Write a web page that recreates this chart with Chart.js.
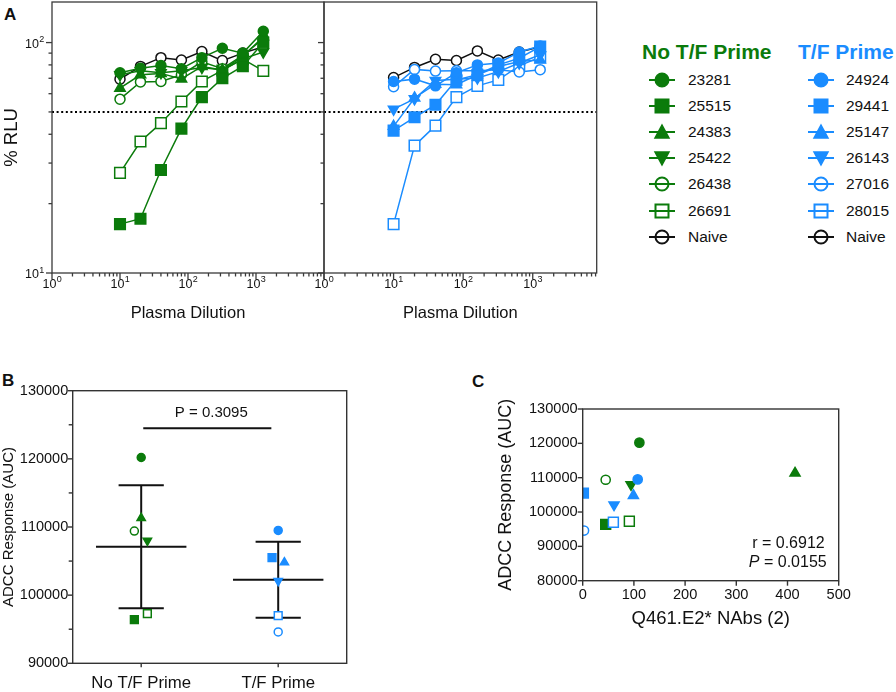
<!DOCTYPE html>
<html><head><meta charset="utf-8">
<script src="https://cdn.jsdelivr.net/npm/chart.js@4.4.1/dist/chart.umd.min.js"></script>
<style>
body{margin:0;background:#fff;width:896px;height:692px;position:relative;overflow:hidden;font-family:Arial,"Liberation Sans",sans-serif;color:#111;}
canvas{position:absolute;}
.plab{position:absolute;font-weight:bold;font-size:17px;line-height:17px;}
.lghead{position:absolute;font-weight:bold;font-size:21px;line-height:24px;white-space:nowrap;}
.lgtxt{position:absolute;font-size:15.5px;line-height:18px;white-space:nowrap;}
.lgsvg{position:absolute;}
</style></head><body>
<div class="plab" style="left:4px;top:6px">A</div>
<div class="plab" style="left:2px;top:372px">B</div>
<div class="plab" style="left:472px;top:373px">C</div>
<canvas id="aL" width="330" height="330" style="left:0;top:0"></canvas>
<canvas id="aR" width="310" height="330" style="left:300px;top:0"></canvas>
<canvas id="pB" width="360" height="322" style="left:0;top:370px"></canvas>
<canvas id="pC" width="400" height="270" style="left:470px;top:370px"></canvas>
<div id="legend"></div>
<script>
// ---------- DATA ----------
const dilutions = [10, 20, 40, 80, 160, 320, 640, 1280];
const groupTitles = ['No T/F Prime', 'T/F Prime'];
const noTFAnimals = ['23281', '25515', '24383', '25422', '26438', '26691', 'Naive'];
const tfAnimals = ['24924', '29441', '25147', '26143', '27016', '28015', 'Naive'];
// % RLU, panel A left (No T/F Prime)
const noTF_23281 = [74, 77.4, 79.5, 77, 86, 94.5, 90, 112];
const noTF_25515 = [16.3, 17.2, 28, 42.3, 58, 70, 79, 100];
const noTF_24383 = [63.4, 72.5, 73.5, 69.5, 78.8, 76, 87, 106];
const noTF_25422 = [72.5, 75.5, 74, 75.5, 78, 76, 85, 91];
const noTF_26438 = [56.8, 67.5, 67.8, 72.5, 82.5, 77, 88, 104];
const noTF_26691 = [27.2, 37.2, 44.7, 55.5, 67.8, 75.7, 84.7, 75.4];
const noTF_naive = [69.4, 78.8, 86, 84, 91.5, 83.5, 90, 96];
// % RLU, panel A right (T/F Prime)
const tf_24924 = [67.8, 69.4, 64.9, 74, 80, 81.5, 91, 96.7];
const tf_29441 = [41.5, 47.4, 53.7, 68.9, 72.5, 80, 85.5, 96];
const tf_25147 = [43.3, 57.5, 66, 65.6, 72.5, 78.7, 82.8, 84];
const tf_26143 = [51.4, 57, 68.4, 69.4, 70.2, 74.8, 81.5, 88.5];
const tf_27016 = [64.3, 76.5, 75.2, 75.4, 75.4, 76.3, 74.5, 76.3];
const tf_28015 = [16.3, 35.7, 43.6, 58, 64.9, 68.9, 79.2, 86.5];
const tf_naive = [70.5, 78, 84.7, 83.6, 92, 84, 91, 96];
const cutoffRLU = 50;
// ADCC AUC (panel B and C), order = animal order above (without Naive)
const noTF_AUC = [120200, 96400, 111300, 108000, 109400, 97300];
const tf_AUC = [109500, 105500, 104800, 102100, 94600, 97000];
// Q461.E2* NAbs (panel C)
const noTF_NAbs = [110.7, 44.9, 414.7, 94.4, 44.9, 91.1];
const tf_NAbs = [107.4, 1.3, 99, 61.2, 2.6, 59.9];
// jitter (category units) in panel B
const noTF_jitter = [0, -0.05, 0, 0.045, -0.05, 0.045];
const tf_jitter = [0, -0.045, 0.045, 0, 0, 0];
const logMajorTicks = [1, 10, 100, 1000, 10000];
const pValueB = 'P = 0.3095';
const corrR = 'r = 0.6912';
const corrP = '0.0155';
const xLabelA = 'Plasma Dilution';
const yLabelA = '% RLU';
const yLabelBC = 'ADCC Response (AUC)';
const xLabelC = 'Q461.E2* NAbs (2)';

// ---------- STYLE ----------
const GREEN = '#0b7b0b', BLUE = '#1a8cff', BLACK = '#111111', AXIS = '#3a3a3a';
const shapes = ['circle', 'square', 'tri', 'triDown', 'circle', 'square', 'circle'];
const filled = [true, true, true, true, false, false, false];
const FONT = 'Arial, "Liberation Sans", "DejaVu Sans", sans-serif';
Chart.defaults.font.family = FONT;
Chart.defaults.color = '#111';
Chart.defaults.animation = false;

function ptStyle(shape, sizes) {
  switch (shape) {
    case 'circle': return {ps: 'circle', rot: 0, r: sizes.circle};
    case 'square': return {ps: 'rect', rot: 0, r: sizes.square};
    case 'tri': return {ps: 'triangle', rot: 0, r: sizes.tri};
    default: return {ps: 'triangle', rot: 180, r: sizes.tri};
  }
}

const frameTicks = {
  id: 'frameTicks',
  afterDraw(chart, args, o) {
    if (!o || !o.marks) return;
    const {ctx, chartArea: a} = chart;
    ctx.save();
    ctx.strokeStyle = o.color || AXIS;
    ctx.lineWidth = o.width || 1.3;
    ctx.strokeRect(a.left, a.top, a.right - a.left, a.bottom - a.top);
    for (const t of o.marks) {
      const sc = chart.scales[t.scale];
      for (const v of t.values) {
        if (v < sc.min - 1e-9 || v > sc.max + 1e-9) continue;
        const p = sc.getPixelForValue(v);
        ctx.beginPath();
        if (t.scale === 'x') { ctx.moveTo(p, a.bottom); ctx.lineTo(p, a.bottom + t.len); }
        else { ctx.moveTo(a.left, p); ctx.lineTo(a.left - t.len, p); }
        ctx.stroke();
      }
    }
    ctx.restore();
  }
};
Chart.register(frameTicks);

// power-of-ten tick labels with a real superscript exponent
const powLabels = {
  id: 'powLabels',
  afterDraw(chart, args, o) {
    if (!o || !o.axes) return;
    const {ctx, chartArea: a} = chart;
    ctx.save(); ctx.fillStyle = '#111'; ctx.textBaseline = 'alphabetic'; ctx.textAlign = 'left';
    const draw = (v, cx, baseY, align) => {
      const e = String(Math.round(Math.log10(v)));
      ctx.font = '12.5px ' + FONT; const w1 = ctx.measureText('10').width;
      ctx.font = '9px ' + FONT; const w2 = ctx.measureText(e).width;
      const x0 = align === 'right' ? cx - w1 - w2 : cx - (w1 + w2) / 2;
      ctx.font = '12.5px ' + FONT; ctx.fillText('10', x0, baseY);
      ctx.font = '9px ' + FONT; ctx.fillText(e, x0 + w1 + 0.3, baseY - 5.5);
    };
    o.axes.forEach(ax => {
      const sc = chart.scales[ax.scale];
      ax.values.forEach(v => {
        if (v < sc.min - 1e-9 || v > sc.max + 1e-9) return;
        const p = sc.getPixelForValue(v);
        if (ax.scale === 'x') draw(v, p, a.bottom + 14.5, 'center');
        else draw(v, a.left - 8, p + 5, 'right');
      });
    });
    ctx.restore();
  }
};
Chart.register(powLabels);

const logMinor = [];
[1, 10, 100, 1000].forEach(d => { for (let k = 2; k <= 9; k++) logMinor.push(k * d); });
const yMinor = [20, 30, 40, 50, 60, 70, 80, 90];

function panelA(id, names, series, color, opts) {
  const sizes = {circle: 5, square: 7.5, tri: 6};
  const ds = series.map((vals, i) => {
    const c = names[i] === 'Naive' ? BLACK : color;
    const st = ptStyle(shapes[i], sizes);
    return {
      label: names[i],
      data: dilutions.map((x, j) => ({x, y: vals[j]})),
      showLine: true, borderColor: c, borderWidth: 1.5,
      pointStyle: st.ps, pointRotation: st.rot, pointRadius: st.r,
      pointBorderColor: c, pointBackgroundColor: filled[i] ? c : '#fff', pointBorderWidth: 1.5
    };
  });
  ds.push({
    label: 'cutoff', data: [{x: 1, y: cutoffRLU}, {x: 10000, y: cutoffRLU}],
    showLine: true, borderColor: '#000', borderWidth: 2, borderDash: [2, 2.6], pointRadius: 0, order: 10
  });
  const xLabs = opts.hideLast ? logMajorTicks.slice(0, -1) : logMajorTicks;
  return new Chart(document.getElementById(id), {
    type: 'scatter',
    data: {datasets: ds},
    options: {
      responsive: false,
      layout: {autoPadding: false, padding: {top: 2, right: opts.padRight, left: 0, bottom: 0}},
      plugins: {legend: {display: false}, tooltip: {enabled: false},
        powLabels: {axes: opts.yLabels ? [{scale: 'x', values: xLabs}, {scale: 'y', values: [10, 100]}] : [{scale: 'x', values: xLabs}]},
        frameTicks: {color: AXIS, width: 1.3, marks: [
          {scale: 'x', values: logMajorTicks, len: 6},
          {scale: 'x', values: logMinor, len: 3.5},
          {scale: 'y', values: [10, 100], len: 6},
          {scale: 'y', values: yMinor, len: 3.5}
        ]}},
      scales: {
        x: {type: 'logarithmic', min: 1, max: opts.xMax,
          afterFit: s => { s.height = 57; s.paddingLeft = 0; s.paddingRight = 0; },
          grid: {display: false, drawTicks: false}, border: {display: false},
          ticks: {display: false},
          title: {display: true, text: xLabelA, font: {size: 16.5}, color: '#111', padding: {top: 0, bottom: 7}}
        },
        y: {type: 'logarithmic', min: 10, max: 150,
          afterFit: s => { s.width = opts.yWidth; s.paddingTop = 0; s.paddingBottom = 0; },
          grid: {display: false, drawTicks: false}, border: {display: false},
          ticks: {display: false},
          title: {display: opts.yLabels, text: yLabelA, font: {size: 18.5}, color: '#111', padding: {top: 1}}
        }
      }
    }
  });
}

panelA('aL', noTFAnimals, [noTF_23281, noTF_25515, noTF_24383, noTF_25422, noTF_26438, noTF_26691, noTF_naive], GREEN,
  {padRight: 6, xMax: 10000, yWidth: 52, yLabels: true, hideLast: true});
panelA('aR', tfAnimals, [tf_24924, tf_29441, tf_25147, tf_26143, tf_27016, tf_28015, tf_naive], BLUE,
  {padRight: 13.3, xMax: 8300, yWidth: 24, yLabels: false, hideLast: false});

// ---------- Panel B ----------
function stats(arr) {
  const m = arr.reduce((a, b) => a + b, 0) / arr.length;
  const sd = Math.sqrt(arr.reduce((a, b) => a + (b - m) * (b - m), 0) / (arr.length - 1));
  return {m, sd};
}
const meanSD = {
  id: 'meanSD',
  beforeDatasetsDraw(chart, args, o) {
    if (!o || !o.groups) return;
    const {ctx} = chart; const xs = chart.scales.x, ys = chart.scales.y;
    ctx.save(); ctx.strokeStyle = '#111'; ctx.lineWidth = 2;
    o.groups.forEach((g, gi) => {
      const {m, sd} = stats(g);
      const seg = (x0, x1, y0, y1) => { ctx.beginPath(); ctx.moveTo(xs.getPixelForValue(x0), ys.getPixelForValue(y0)); ctx.lineTo(xs.getPixelForValue(x1), ys.getPixelForValue(y1)); ctx.stroke(); };
      seg(gi - 0.33, gi + 0.33, m, m);
      seg(gi, gi, m - sd, m + sd);
      seg(gi - 0.165, gi + 0.165, m + sd, m + sd);
      seg(gi - 0.165, gi + 0.165, m - sd, m - sd);
    });
    // significance bar
    const yb = ys.getPixelForValue(124480);
    const x0 = xs.getPixelForValue(0.015), x1 = xs.getPixelForValue(0.95);
    ctx.beginPath(); ctx.moveTo(x0, yb); ctx.lineTo(x1, yb); ctx.stroke();
    ctx.fillStyle = '#111'; ctx.font = '15px ' + FONT; ctx.textAlign = 'center'; ctx.textBaseline = 'middle';
    ctx.fillText(pValueB, (x0 + x1) / 2 + 4, yb - 15);
    ctx.restore();
  }
};

function pointsFor(values, sizes) {
  const pts = [], ps = [], rot = [], rad = [], bg = [], bc = [];
  values.forEach((grp, gi) => {
    const col = gi === 0 ? GREEN : BLUE;
    grp.y.forEach((v, i) => {
      const st = ptStyle(shapes[i], sizes);
      pts.push({x: grp.x[i], y: v}); ps.push(st.ps); rot.push(st.rot); rad.push(st.r);
      bg.push(filled[i] ? col : '#fff'); bc.push(col);
    });
  });
  return {data: pts, pointStyle: ps, pointRotation: rot, pointRadius: rad, pointBackgroundColor: bg, pointBorderColor: bc, pointBorderWidth: 1.5};
}

new Chart(document.getElementById('pB'), {
  type: 'scatter',
  data: {datasets: [pointsFor([
    {x: noTF_jitter.map(j => 0 + j), y: noTF_AUC},
    {x: tf_jitter.map(j => 1 + j), y: tf_AUC}
  ], {circle: 4, square: 5.5, tri: 4.8})]},
  plugins: [meanSD],
  options: {
    responsive: false,
    layout: {autoPadding: false, padding: {top: 20.7, right: 13.3, left: 0, bottom: 0}},
    plugins: {legend: {display: false}, tooltip: {enabled: false},
      meanSD: {groups: [noTF_AUC, tf_AUC]},
      frameTicks: {color: '#333', width: 1.4, marks: [
        {scale: 'x', values: [0, 1], len: 4},
        {scale: 'y', values: [90000, 100000, 110000, 120000, 130000], len: 5},
        {scale: 'y', values: [95000, 105000, 115000, 125000], len: 4}
      ]}},
    scales: {
      x: {type: 'linear', min: -0.5, max: 1.5,
        afterBuildTicks: s => { s.ticks = [0, 1].map(v => ({value: v})); },
        afterFit: s => { s.height = 28.7; s.paddingLeft = 0; s.paddingRight = 0; },
        grid: {display: false, drawTicks: false}, border: {display: false},
        ticks: {padding: 10, font: {size: 16.8}, color: '#111', callback: v => groupTitles[v]}
      },
      y: {min: 90000, max: 130000,
        afterFit: s => { s.width = 72.7; s.paddingTop = 0; s.paddingBottom = 0; },
        grid: {display: false, drawTicks: false}, border: {display: false},
        ticks: {stepSize: 10000, padding: 4.5, font: {size: 14.5}, color: '#111', callback: v => String(v)},
        title: {display: true, text: yLabelBC, font: {size: 15}, color: '#111', padding: {top: 0}}
      }
    }
  }
});

// ---------- Panel C ----------
const corrText = {
  id: 'corrText',
  afterDraw(chart) {
    const {ctx, chartArea: a} = chart;
    ctx.save(); ctx.fillStyle = '#111'; ctx.textAlign = 'right'; ctx.textBaseline = 'middle';
    ctx.font = '16px ' + FONT;
    const xr = a.right - 12;
    ctx.fillText(corrR, xr - 2, a.bottom - 37);
    const rest = ' = ' + corrP;
    ctx.fillText(rest, xr, a.bottom - 18);
    const w = ctx.measureText(rest).width;
    ctx.font = 'italic 16px ' + FONT;
    ctx.fillText('P', xr - w, a.bottom - 18);
    ctx.restore();
  }
};
new Chart(document.getElementById('pC'), {
  type: 'scatter',
  data: {datasets: [pointsFor([
    {x: noTF_NAbs, y: noTF_AUC},
    {x: tf_NAbs, y: tf_AUC}
  ], {circle: 4.6, square: 7, tri: 5.8})]},
  plugins: [corrText],
  options: {
    responsive: false,
    layout: {autoPadding: false, padding: {top: 39, right: 31.3, left: 0, bottom: 0}},
    plugins: {legend: {display: false}, tooltip: {enabled: false},
      frameTicks: {color: '#333', width: 1.4, marks: [
        {scale: 'x', values: [0, 100, 200, 300, 400, 500], len: 5},
        {scale: 'y', values: [80000, 90000, 100000, 110000, 120000, 130000], len: 5}
      ]}},
    scales: {
      x: {type: 'linear', min: 0, max: 500,
        afterFit: s => { s.height = 59.3; s.paddingLeft = 0; s.paddingRight = 0; },
        grid: {display: false, drawTicks: false}, border: {display: false},
        ticks: {stepSize: 100, padding: 6, font: {size: 14.6}, color: '#111'},
        title: {display: true, text: xLabelC, font: {size: 18.5}, color: '#111', padding: {top: 0, bottom: 10}}
      },
      y: {min: 80000, max: 130000,
        afterFit: s => { s.width = 112.7; s.paddingTop = 0; s.paddingBottom = 0; },
        grid: {display: false, drawTicks: false}, border: {display: false},
        ticks: {stepSize: 10000, padding: 5, font: {size: 14.6}, color: '#111', callback: v => String(v)},
        title: {display: true, text: yLabelBC, font: {size: 18}, color: '#111', padding: {top: 25}}
      }
    }
  }
});

// ---------- Legend (HTML) ----------
function markerSVG(shape, color, isFilled) {
  const f = isFilled ? color : 'none';
  let s;
  if (shape === 'circle') s = `<circle cx="15" cy="10" r="6.5" fill="${f}" stroke="${color}" stroke-width="2"/>`;
  else if (shape === 'square') s = `<rect x="8.5" y="3.5" width="13" height="13" fill="${f}" stroke="${color}" stroke-width="2"/>`;
  else if (shape === 'tri') s = `<polygon points="15,3 22,16 8,16" fill="${f}" stroke="${color}" stroke-width="1.5"/>`;
  else s = `<polygon points="15,17 22,4 8,4" fill="${f}" stroke="${color}" stroke-width="1.5"/>`;
  const line = `<line x1="2" y1="10" x2="28" y2="10" stroke="${color}" stroke-width="2"/>`;
  return `<svg width="30" height="20">${isFilled ? line + s : s + line}</svg>`;
}
const lg = document.getElementById('legend');
[[noTFAnimals, GREEN, 642, 662, 688], [tfAnimals, BLUE, 798, 820.7, 846]].forEach(([names, col, hx, mx, tx], gi) => {
  let h = `<div class="lghead" style="left:${hx}px;top:${40}px;color:${col}">${groupTitles[gi]}</div>`;
  names.forEach((n, i) => {
    const y = 80 + i * 26.1;
    const c = n === 'Naive' ? BLACK : col;
    h += `<div class="lgsvg" style="left:${mx - 15}px;top:${y - 10}px">${markerSVG(shapes[i], c, filled[i])}</div>`;
    h += `<div class="lgtxt" style="left:${tx}px;top:${y - 9}px">${n}</div>`;
  });
  lg.insertAdjacentHTML('beforeend', h);
});
</script>
</body></html>
